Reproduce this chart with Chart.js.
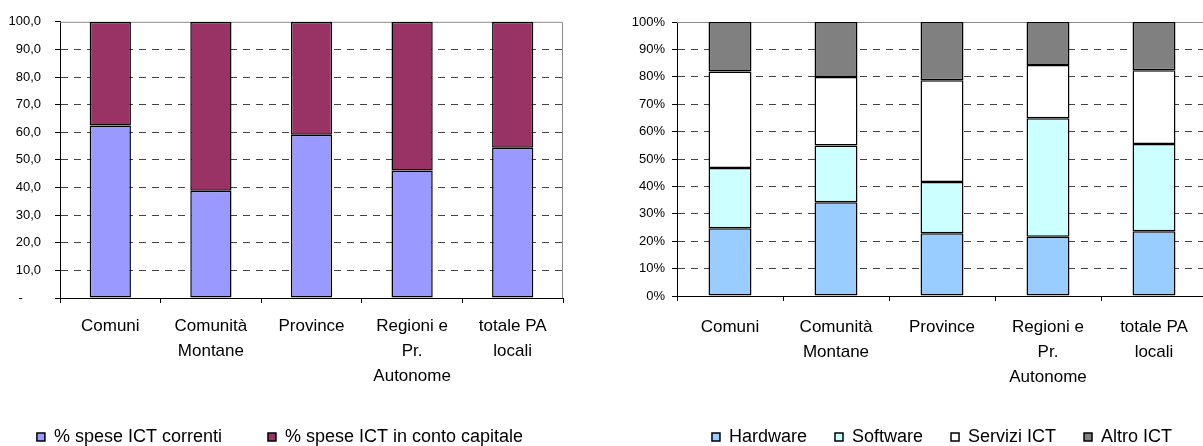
<!DOCTYPE html>
<html>
<head>
<meta charset="utf-8">
<script src="https://cdn.jsdelivr.net/npm/chart.js@4.4.0/dist/chart.umd.min.js"></script>
<style>
  html, body { margin: 0; padding: 0; background: #fff; overflow: hidden; width: 1203px; height: 446px; position: relative; }
  canvas { position: absolute; top: 0; }
  #left { left: -40px; }
  #right { left: 600px; }
</style>
</head>
<body>
<canvas id="left" width="640" height="456"></canvas>
<canvas id="right" width="620" height="456"></canvas>
<script>
// categories shared by both charts
const categories = [["Comuni"], ["Comunità", "Montane"], ["Province"], ["Regioni e", "Pr.", "Autonome"], ["totale PA", "locali"]];

// left chart: % spese ICT
const speseCorrenti = [62.5, 38.8, 59.1, 46.2, 54.4];
const speseCapitale = [37.5, 61.2, 40.9, 53.8, 45.6];
const leftTicks = ["-     ", "10,0", "20,0", "30,0", "40,0", "50,0", "60,0", "70,0", "80,0", "90,0", "100,0"];

// right chart: composizione spesa ICT
const hardware = [24.7, 34.2, 22.9, 21.6, 23.6];
const software = [22.0, 20.7, 18.7, 43.3, 31.9];
const serviziICT = [35.2, 25.0, 37.1, 19.4, 26.9];
const altroICT = [18.1, 20.1, 21.3, 15.7, 17.6];
const rightTicks = ["0%", "10%", "20%", "30%", "40%", "50%", "60%", "70%", "80%", "90%", "100%"];

const FONT = "'Liberation Sans', Arial, sans-serif";

// gray frame on top and right of the plot area
const framePlugin = {
  id: "frame",
  beforeDatasetsDraw(chart) {
    const { ctx, chartArea: a } = chart;
    ctx.save();
    ctx.strokeStyle = "#8c8c8c";
    ctx.lineWidth = 1;
    ctx.beginPath();
    ctx.moveTo(a.left, a.top + 0.5);
    ctx.lineTo(a.right - 0.5, a.top + 0.5);
    ctx.lineTo(a.right - 0.5, a.bottom);
    ctx.stroke();
    ctx.restore();
  }
};

function bar(label, data, color, pct) {
  return {
    label: label,
    data: data,
    backgroundColor: color,
    borderColor: "#000",
    borderWidth: 1.5,
    borderSkipped: false,
    barPercentage: pct,
    categoryPercentage: 1
  };
}

function makeChart(id, datasets, tickLabels, opts) {
  const ctx = document.getElementById(id).getContext("2d");
  return new Chart(ctx, {
    type: "bar",
    data: { labels: categories, datasets: datasets },
    plugins: [framePlugin],
    options: {
      responsive: false,
      animation: false,
      layout: { padding: { top: opts.top, right: 0, left: 0, bottom: 0 } },
      plugins: {
        tooltip: { enabled: false },
        legend: {
          position: "bottom",
          fullSize: opts.legendFull,
          labels: {
            boxWidth: 8,
            boxHeight: 8,
            padding: opts.legendPad,
            color: "#000",
            font: { family: FONT, size: 18 }
          }
        }
      },
      scales: {
        x: {
          stacked: true,
          afterFit: (s) => { s.height = opts.xHeight; },
          grid: { offset: true, drawOnChartArea: false, tickLength: 5, color: "#000" },
          border: { color: "#000", width: 1 },
          ticks: {
            color: "#000",
            padding: opts.xPad,
            maxRotation: 0,
            autoSkip: false,
            font: { family: FONT, size: 17, lineHeight: 1.47 }
          }
        },
        y: {
          stacked: true,
          min: 0,
          max: 100,
          afterFit: (s) => { s.width = opts.yWidth; },
          grid: {
            color: (c) => (c.tick && c.tick.value === 100 ? "rgba(0,0,0,0)" : "#444"),
            tickColor: "#000",
            tickLength: 5,
            lineWidth: 1
          },
          border: { color: "#000", width: 1, dash: [7, 6] },
          ticks: {
            stepSize: 10,
            color: "#000",
            padding: opts.yPad,
            font: { family: FONT, size: 13 },
            callback: (v, i) => tickLabels[i]
          }
        },
        // empty spacer on the right so the legend can use the full width
        spacer: {
          position: "right",
          min: 0,
          max: 100,
          afterFit: (s) => { s.width = opts.right; },
          grid: { display: false },
          border: { display: false },
          ticks: { display: false }
        }
      }
    }
  });
}

makeChart("left", [
  bar("% spese ICT correnti", speseCorrenti, "#9999FF", 0.41),
  bar("% spese ICT in conto capitale", speseCapitale, "#993366", 0.41)
], leftTicks, { top: 20, right: 37, legendFull: true, legendPad: 46, xHeight: 84, xPad: 11, yWidth: 100, yPad: 14 });

makeChart("right", [
  bar("Hardware", hardware, "#99CCFF", 0.405),
  bar("Software", software, "#CCFFFF", 0.405),
  bar("Servizi ICT", serviziICT, "#FFFFFF", 0.405),
  bar("Altro ICT", altroICT, "#808080", 0.405)
], rightTicks, { top: 22, right: 13, legendFull: false, legendPad: 28, xHeight: 104, xPad: 14, yWidth: 77, yPad: 7 });
</script>
</body>
</html>
